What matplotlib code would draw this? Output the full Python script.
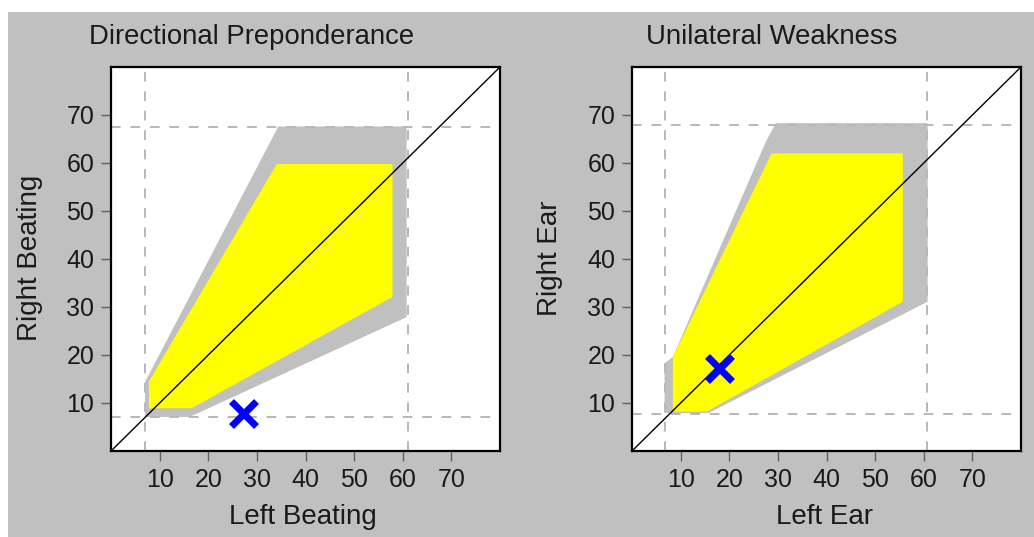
import matplotlib
matplotlib.use("Agg")
import matplotlib.pyplot as plt
from matplotlib.patches import Polygon, Rectangle

plt.rcParams["font.family"] = ["Liberation Sans", "DejaVu Sans"]

W, H, DPI = 1034, 537, 100

# ---- data -------------------------------------------------------------
ticks = [10, 20, 30, 40, 50, 60, 70]
axis_range = (0, 80)

dp_title = "Directional Preponderance"
dp_xlabel = "Left Beating"
dp_ylabel = "Right Beating"
dp_outer_x = [34.4, 60.8, 60.8, 16.2, 7.0, 7.0, 7.8]
dp_outer_y = [67.6, 67.6, 27.9, 7.1, 7.1, 14.5, 15.9]
dp_inner_x = [34.1, 57.9, 57.9, 16.6, 7.8, 7.8]
dp_inner_y = [59.8, 59.8, 32.1, 8.9, 8.9, 14.5]
dp_vlines = [7.0, 61.0]
dp_hlines = [7.0, 67.5]
dp_point = (27.2, 7.9)

uw_title = "Unilateral Weakness"
uw_xlabel = "Left Ear"
uw_ylabel = "Right Ear"
uw_outer_x = [29.6, 60.8, 60.8, 15.7, 6.7, 6.7, 8.4, 27.6]
uw_outer_y = [68.3, 68.3, 31.1, 7.9, 7.9, 18.3, 19.6, 64.6]
uw_inner_x = [28.7, 55.7, 55.7, 15.4, 8.4, 8.4]
uw_inner_y = [62.0, 62.0, 31.1, 8.2, 8.2, 19.6]
uw_vlines = [6.7, 60.7]
uw_hlines = [7.8, 68.0]
uw_point = (17.9, 17.2)

BG = "#c0c0c0"
OUTER = "#c0c0c0"
INNER = "#ffff00"
DASH = "#b8b8b8"

fig = plt.figure(figsize=(W / DPI, H / DPI), dpi=DPI, facecolor=BG)

# white border strips at the top and left edge
fig.patches.append(Rectangle((0, 1 - 12 / H), 1, 12 / H, transform=fig.transFigure,
                             facecolor="white", edgecolor="none", zorder=-1))
fig.patches.append(Rectangle((0, 0), 8 / W, 1, transform=fig.transFigure,
                             facecolor="white", edgecolor="none", zorder=-1))


def px_axes(left, top, right, bottom):
    return fig.add_axes([left / W, 1 - bottom / H, (right - left) / W, (bottom - top) / H])


def draw_panel(ax, ox, oy, ix, iy, vlines, hlines, point):
    ax.set_facecolor("white")
    ax.set_xlim(*axis_range)
    ax.set_ylim(*axis_range)
    ax.add_patch(Polygon(list(zip(ox, oy)), closed=True, facecolor=OUTER,
                         edgecolor="none", zorder=1))
    ax.add_patch(Polygon(list(zip(ix, iy)), closed=True, facecolor=INNER,
                         edgecolor="none", zorder=2))
    for v in vlines:
        ax.axvline(v, color=DASH, lw=1.4, dashes=(5, 5), zorder=3)
    for h in hlines:
        ax.axhline(h, color=DASH, lw=1.4, dashes=(5, 5), zorder=3)
    ax.plot(axis_range, axis_range, color="black", lw=1.0, zorder=4)
    ax.plot([point[0]], [point[1]], marker="x", color="#0000ff", markersize=18,
            markeredgewidth=5, linestyle="none", zorder=5)
    ax.set_xticks(ticks)
    ax.set_yticks(ticks)
    ax.tick_params(direction="out", length=7, width=1, color="#606060",
                   labelsize=18, pad=5, labelcolor="#1a1a1a")
    for s in ax.spines.values():
        s.set_color("black")
        s.set_linewidth(1.6)
        s.set_zorder(6)


ax1 = px_axes(111, 67, 500, 451)
draw_panel(ax1, dp_outer_x, dp_outer_y, dp_inner_x, dp_inner_y,
           dp_vlines, dp_hlines, dp_point)
ax2 = px_axes(632, 67, 1021, 451)
draw_panel(ax2, uw_outer_x, uw_outer_y, uw_inner_x, uw_inner_y,
           uw_vlines, uw_hlines, uw_point)

txt = dict(color="#1a1a1a", fontsize=20, ha="center", va="center")


def fig_text(x, y, s, **kw):
    fig.text(x / W, 1 - y / H, s, **{**txt, **kw})


fig_text(252, 37, dp_title, fontsize=19.8)
fig_text(772, 37, uw_title, fontsize=19.8)
fig_text(303, 517, dp_xlabel)
fig_text(824, 517, uw_xlabel)
fig_text(30, 258, dp_ylabel, rotation=90)
fig_text(550, 258, uw_ylabel, rotation=90)

fig.savefig("out.png", dpi=DPI, facecolor=BG)
